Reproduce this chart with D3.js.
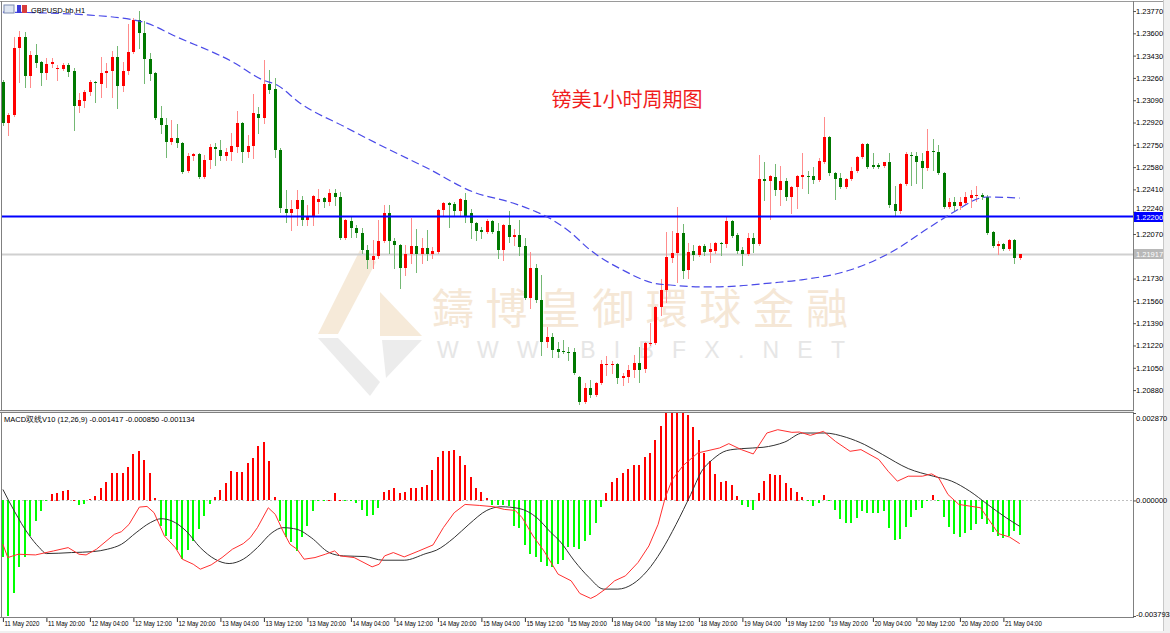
<!DOCTYPE html>
<html>
<head>
<meta charset="utf-8">
<script src="https://cdn.jsdelivr.net/npm/d3@7"></script>
<style>
  body { margin: 0; background: #fff; }
  text { font-family: "Liberation Sans", Arial, sans-serif; }
</style>
</head>
<body>
<svg id="chart"></svg>
<script>
// GBPUSD H1 candles: [open, high, low, close], first bar = 11 May 12:00
const ohlc = [
  [1.23229,1.23244,1.22901,1.22916],[1.22916,1.22992,1.22825,1.22977],[1.22977,1.23572,1.22969,1.23488],[1.23488,1.23617,1.23229,1.23572],
  [1.23572,1.23610,1.23191,1.23274],[1.23274,1.23465,1.23191,1.23435],[1.23435,1.23518,1.23344,1.23374],[1.23382,1.23390,1.23206,1.23297],
  [1.23297,1.23412,1.23251,1.23366],[1.23366,1.23412,1.23344,1.23382],[1.23328,1.23359,1.23244,1.23336],[1.23328,1.23374,1.23320,1.23359],
  [1.23359,1.23374,1.23274,1.23305],[1.23312,1.23336,1.22863,1.23046],[1.23046,1.23145,1.23000,1.23092],[1.23084,1.23168,1.23039,1.23153],
  [1.23153,1.23244,1.23130,1.23229],[1.23229,1.23236,1.23077,1.23221],[1.23213,1.23420,1.23115,1.23297],[1.23297,1.23374,1.23191,1.23312],
  [1.23312,1.23465,1.23115,1.23420],[1.23420,1.23503,1.23031,1.23198],[1.23198,1.23382,1.23160,1.23312],[1.23312,1.23671,1.23289,1.23458],
  [1.23458,1.23717,1.23450,1.23702],[1.23702,1.23770,1.23488,1.23602],[1.23602,1.23694,1.23221,1.23404],[1.23404,1.23450,1.23244,1.23289],
  [1.23297,1.23305,1.22946,1.22954],[1.22954,1.23046,1.22840,1.22901],[1.22901,1.22954,1.22657,1.22772],[1.22772,1.22939,1.22756,1.22802],
  [1.22802,1.22908,1.22734,1.22764],[1.22764,1.22772,1.22535,1.22543],[1.22550,1.22687,1.22543,1.22664],[1.22664,1.22687,1.22634,1.22679],
  [1.22679,1.22687,1.22497,1.22505],[1.22505,1.22672,1.22497,1.22634],[1.22634,1.22756,1.22573,1.22734],[1.22734,1.22764,1.22596,1.22718],
  [1.22710,1.22787,1.22634,1.22664],[1.22664,1.22726,1.22634,1.22695],[1.22695,1.22840,1.22634,1.22741],[1.22734,1.23007,1.22695,1.22916],
  [1.22916,1.22924,1.22619,1.22695],[1.22695,1.22825,1.22657,1.22741],[1.22741,1.23137,1.22649,1.22992],[1.22984,1.23039,1.22840,1.22954],
  [1.22954,1.23397,1.22916,1.23213],[1.23213,1.23320,1.23145,1.23168],[1.23175,1.23259,1.22657,1.22710],[1.22710,1.22726,1.22238,1.22268],
  [1.22261,1.22405,1.22162,1.22230],[1.22230,1.22329,1.22100,1.22261],[1.22261,1.22405,1.22139,1.22329],[1.22329,1.22359,1.22139,1.22177],
  [1.22177,1.22291,1.22139,1.22200],[1.22200,1.22367,1.22139,1.22359],[1.22314,1.22413,1.22230,1.22336],[1.22344,1.22352,1.22276,1.22314],
  [1.22314,1.22413,1.22291,1.22382],[1.22382,1.22413,1.22291,1.22352],[1.22352,1.22390,1.22031,1.22039],[1.22039,1.22184,1.22031,1.22177],
  [1.22169,1.22200,1.22047,1.22116],[1.22116,1.22139,1.22047,1.22077],[1.22077,1.22116,1.21925,1.21948],[1.21948,1.21986,1.21811,1.21872],
  [1.21872,1.22024,1.21811,1.21902],[1.21902,1.22177,1.21887,1.22016],[1.22016,1.22291,1.22009,1.22230],[1.22230,1.22291,1.21925,1.22016],
  [1.22016,1.22039,1.21811,1.21986],[1.21986,1.21993,1.21658,1.21811],[1.21811,1.21986,1.21757,1.21917],[1.21917,1.22192,1.21849,1.21978],
  [1.21978,1.22108,1.21780,1.21917],[1.21917,1.22039,1.21849,1.21963],[1.21963,1.22100,1.21872,1.21917],[1.21917,1.21971,1.21887,1.21940],
  [1.21933,1.22261,1.21925,1.22253],[1.22253,1.22314,1.22215,1.22306],[1.22306,1.22314,1.22124,1.22291],[1.22298,1.22314,1.22215,1.22245],
  [1.22245,1.22344,1.22215,1.22336],[1.22329,1.22382,1.22162,1.22200],[1.22230,1.22261,1.22039,1.22154],[1.22154,1.22162,1.22024,1.22092],
  [1.22100,1.22124,1.22039,1.22085],[1.22085,1.22184,1.22077,1.22169],[1.22169,1.22177,1.22077,1.22085],[1.22092,1.22154,1.21887,1.21948],
  [1.21948,1.22147,1.21872,1.22139],[1.22139,1.22245,1.22009,1.22047],[1.22047,1.22108,1.21986,1.22062],[1.22062,1.22177,1.21910,1.21971],
  [1.21978,1.22039,1.21574,1.21582],[1.21582,1.21933,1.21506,1.21811],[1.21811,1.21841,1.21552,1.21567],[1.21567,1.21757,1.21147,1.21247],
  [1.21247,1.21361,1.21209,1.21285],[1.21285,1.21315,1.21132,1.21185],[1.21193,1.21247,1.21132,1.21170],[1.21177,1.21262,1.21162,1.21170],
  [1.21170,1.21209,1.21109,1.21162],[1.21170,1.21201,1.21002,1.21010],[1.20980,1.20988,1.20773,1.20789],[1.20789,1.20934,1.20781,1.20896],
  [1.20896,1.20957,1.20827,1.20842],[1.20842,1.20942,1.20834,1.20934],[1.20934,1.21109,1.20926,1.21078],[1.21071,1.21139,1.20995,1.21078],
  [1.21071,1.21101,1.21010,1.21078],[1.21078,1.21086,1.20934,1.20972],[1.20972,1.21010,1.20919,1.20987],[1.20980,1.21071,1.20942,1.21033],
  [1.21033,1.21147,1.20980,1.21086],[1.21086,1.21209,1.20942,1.21033],[1.21040,1.21247,1.21018,1.21239],[1.21231,1.21391,1.21224,1.21239],
  [1.21239,1.21521,1.21231,1.21514],[1.21514,1.21726,1.21452,1.21643],[1.21643,1.22085,1.21552,1.21895],[1.21887,1.22092,1.21857,1.21925],
  [1.21925,1.22276,1.21704,1.22077],[1.22077,1.22146,1.21734,1.21787],[1.21795,1.22001,1.21734,1.21933],[1.21940,1.21986,1.21872,1.21910],
  [1.21910,1.21986,1.21902,1.21978],[1.21978,1.21993,1.21910,1.21933],[1.21933,1.22001,1.21857,1.21955],[1.21940,1.22009,1.21925,1.22001],
  [1.22001,1.22009,1.21910,1.21993],[1.21993,1.22207,1.21971,1.22169],[1.22169,1.22177,1.22047,1.22054],[1.22062,1.22077,1.21925,1.21940],
  [1.21948,1.21971,1.21834,1.21917],[1.21917,1.22077,1.21910,1.22039],[1.22039,1.22077,1.21933,1.21993],[1.21993,1.22672,1.21986,1.22489],
  [1.22489,1.22619,1.22329,1.22474],[1.22474,1.22520,1.22184,1.22512],[1.22505,1.22603,1.22367,1.22405],[1.22405,1.22588,1.22291,1.22474],
  [1.22474,1.22497,1.22329,1.22352],[1.22352,1.22436,1.22230,1.22429],[1.22429,1.22520,1.22268,1.22512],[1.22505,1.22687,1.22421,1.22520],
  [1.22512,1.22550,1.22382,1.22505],[1.22512,1.22581,1.22459,1.22482],[1.22482,1.22649,1.22474,1.22626],[1.22619,1.22962,1.22611,1.22810],
  [1.22810,1.22817,1.22520,1.22535],[1.22535,1.22543,1.22336,1.22489],[1.22497,1.22535,1.22421,1.22429],[1.22429,1.22497,1.22421,1.22489],
  [1.22489,1.22581,1.22482,1.22550],[1.22550,1.22664,1.22543,1.22657],[1.22657,1.22764,1.22649,1.22756],[1.22756,1.22764,1.22573,1.22581],
  [1.22596,1.22687,1.22573,1.22581],[1.22596,1.22611,1.22573,1.22581],[1.22588,1.22619,1.22581,1.22619],[1.22619,1.22687,1.22276,1.22291],
  [1.22298,1.22436,1.22215,1.22245],[1.22245,1.22459,1.22230,1.22451],[1.22451,1.22695,1.22444,1.22679],[1.22672,1.22695,1.22444,1.22664],
  [1.22664,1.22695,1.22459,1.22619],[1.22626,1.22687,1.22421,1.22573],[1.22573,1.22870,1.22558,1.22702],[1.22702,1.22794,1.22558,1.22695],
  [1.22695,1.22749,1.22527,1.22535],[1.22535,1.22543,1.22268,1.22276],[1.22276,1.22344,1.22268,1.22314],[1.22314,1.22352,1.22253,1.22283],
  [1.22283,1.22352,1.22260,1.22314],[1.22306,1.22390,1.22298,1.22352],[1.22344,1.22405,1.22276,1.22367],[1.22359,1.22436,1.22321,1.22367],
  [1.22367,1.22382,1.22336,1.22352],[1.22352,1.22367,1.22069,1.22077],[1.22085,1.22092,1.21971,1.21978],[1.21978,1.22016,1.21917,1.21993],
  [1.21993,1.22001,1.21948,1.21955],[1.21955,1.22031,1.21948,1.22024],[1.22024,1.22031,1.21849,1.21887],[1.21887,1.21917,1.21879,1.21917]
];

// blue dashed moving average, read as [bar, price]
const maLine = [
  [0,1.23762],[15.5,1.23740],[25.8,1.23686],[32,1.23572],[42.3,1.23381],[47.8,1.23244],[50.4,1.23206],[54.6,1.23069],
  [62.9,1.22886],[71.2,1.22710],[78,1.22573],[86.5,1.22390],[93.8,1.22306],[98.2,1.22237],[100.1,1.22200],[104.3,1.22085],
  [108,1.21948],[114,1.21795],[119.6,1.21696],[122.7,1.21681],[130,1.21666],[135,1.21673],[141.1,1.21696],[146.6,1.21719],
  [155.8,1.21795],[163.1,1.21925],[170.5,1.22123],[175.5,1.22253],[179.7,1.22344],[181,1.22352],[187,1.22344]
];

const levelLine = 1.22200;

// MACD histogram, one value per bar
const macdHist = [
  -0.001875,-0.004100,-0.003052,-0.002202,-0.001875,-0.001166,-0.000676,-0.000349,-0.000022,0.000218,
  0.000251,0.000305,0.000338,0.000010,-0.000164,-0.000142,0.000033,0.000142,0.000392,0.000610,
  0.000905,0.000905,0.000905,0.001090,0.001526,0.001613,0.001319,0.000905,0.000065,-0.000839,
  -0.001166,-0.001275,-0.001657,-0.001929,-0.001635,-0.001330,-0.000948,-0.000512,-0.000131,0.000109,
  0.000338,0.000578,0.000959,0.000927,0.000927,0.001232,0.001395,0.001777,0.001918,0.001286,
  0.000109,-0.000698,-0.001221,-0.001384,-0.001679,-0.001221,-0.000839,-0.000371,-0.000022,-0.000022,
  0.000005,0.000251,0.000022,-0.000022,-0.000044,-0.000109,-0.000327,-0.000512,-0.000480,-0.000273,
  0.000273,0.000338,0.000414,0.000240,0.000262,0.000392,0.000414,0.000436,0.000501,0.001014,
  0.001417,0.001613,0.001635,0.001668,0.001472,0.001155,0.000763,0.000392,0.000283,0.000065,
  -0.000153,-0.000153,-0.000164,-0.000185,-0.000839,-0.000916,-0.001493,-0.001766,-0.001875,-0.002038,
  -0.002180,-0.002202,-0.002093,-0.001984,-0.001548,-0.001548,-0.001602,-0.001330,-0.001134,-0.000763,
  -0.000218,0.000251,0.000610,0.000741,0.000905,0.001046,0.001177,0.001177,0.001417,0.001559,
  0.001995,0.002453,0.002998,0.003161,0.003107,0.002943,0.002812,0.002398,0.001995,0.001559,
  0.001286,0.000872,0.000600,0.000654,0.000501,0.000142,-0.000153,-0.000218,-0.000327,0.000251,
  0.000632,0.000883,0.000850,0.000850,0.000578,0.000392,0.000283,0.000109,-0.000044,-0.000185,
  -0.000109,0.000174,-0.000044,-0.000327,-0.000621,-0.000763,-0.000763,-0.000589,-0.000371,-0.000436,
  -0.000436,-0.000436,-0.000371,-0.000916,-0.001308,-0.001275,-0.000872,-0.000545,-0.000327,-0.000262,
  -0.000022,0.000174,-0.000022,-0.000545,-0.000872,-0.001112,-0.001199,-0.001090,-0.000981,-0.000785,
  -0.000621,-0.000785,-0.001057,-0.001166,-0.001254,-0.001166,-0.001003,-0.001134
];

// MACD fast line (red) and signal line (black), read as [bar, value]
const macdDiff = [
  [0,-0.001439],[0.9,-0.001875],[2.8,-0.001766],[6,-0.001788],[9.3,-0.001657],[12,-0.001548],[14,-0.001766],[15.3,-0.001788],
  [17.2,-0.001602],[20.5,-0.001112],[21.8,-0.001025],[23.2,-0.000785],[25.1,-0.000218],[26.5,-0.000196],[27.8,-0.000403],[29.7,-0.001166],
  [31.7,-0.001548],[33,-0.001929],[35,-0.002093],[36.3,-0.002256],[38.3,-0.002115],[40.3,-0.001875],[42.2,-0.001602],[44.2,-0.001417],
  [45.5,-0.001221],[46.8,-0.000894],[48.8,-0.000240],[50.1,-0.000458],[51.5,-0.001003],[52.8,-0.001439],[54.1,-0.001602],[55.4,-0.001929],
  [57.4,-0.001875],[59.3,-0.001766],[61,-0.001657],[62,-0.001820],[64.6,-0.001875],[67.9,-0.002180],[69.2,-0.002093],[70.2,-0.001820],
  [71.8,-0.001711],[73.8,-0.001853],[76.5,-0.001657],[79.1,-0.001461],[81,-0.000894],[83,-0.000403],[85,-0.000131],[87.6,-0.000164],
  [90.3,-0.000207],[92.2,-0.000294],[94.2,-0.000327],[95.5,-0.000567],[97.5,-0.001166],[99.5,-0.001657],[102.1,-0.002420],[104.5,-0.002638],
  [106.1,-0.003052],[108.1,-0.003216],[109.1,-0.003128],[110.8,-0.002910],[112.5,-0.002638],[114.5,-0.002474],[116.8,-0.002038],[118.8,-0.001493],
  [120.5,-0.000785],[121.8,0.000087],[123.1,0.000687],[125.1,0.001145],[127.8,0.001559],[131.8,0.001722],[133.5,0.001864],[135.8,0.001668],
  [138,0.001526],[140.5,0.002213],[142.5,0.002322],[145.1,0.002235],[146.5,0.002245],[148.5,0.002136],[150.9,0.002267],[153.1,0.001940],
  [155.8,0.001613],[157.8,0.001668],[161.1,0.001341],[162.8,0.000959],[164.5,0.000632],[166.5,0.000796],[169.1,0.000796],[170.8,0.000872],
  [172.1,0.000741],[173.8,0.000196],[175.8,-0.000131],[179.8,-0.000240],[181.5,-0.000676],[183.1,-0.001090],[185.1,-0.001199],[187,-0.001417]
];
const macdDea = [
  [0,0.000360],[2.1,-0.000349],[4.7,-0.001112],[6.7,-0.001548],[8,-0.001744],[12.6,-0.001711],[16.6,-0.001679],[19.2,-0.001602],
  [21.8,-0.001439],[24.5,-0.001057],[27.1,-0.000730],[29.1,-0.000600],[31.1,-0.000676],[33.7,-0.001003],[36.3,-0.001548],[39,-0.001929],
  [41.6,-0.002071],[44.2,-0.001929],[46.8,-0.001548],[49.5,-0.001057],[51.5,-0.000894],[54.1,-0.000948],[56.7,-0.001221],[60,-0.001711],
  [62.6,-0.001820],[66.6,-0.001842],[69.9,-0.001962],[73.8,-0.001962],[77.8,-0.001744],[79.7,-0.001635],[83,-0.001221],[85.7,-0.000785],
  [89,-0.000327],[91.6,-0.000207],[94.9,-0.000262],[98.2,-0.000567],[100.8,-0.001057],[102.4,-0.001330],[105.1,-0.001984],[107.8,-0.002529],
  [110.5,-0.002910],[113.1,-0.002910],[115.8,-0.002747],[118.5,-0.002311],[121.1,-0.001657],[123.8,-0.000785],[126.5,0.000196],[128.5,0.000959],
  [130.5,0.001341],[133.1,0.001635],[135.8,0.001700],[139.8,0.001744],[143.8,0.001918],[147.1,0.002213],[151.1,0.002213],[155.1,0.002071],
  [158.5,0.001831],[161.8,0.001504],[166.5,0.001046],[171.1,0.000796],[174.5,0.000632],[177.8,0.000305],[181.1,-0.000131],[184.5,-0.000567],
  [187,-0.000850]
];

const timeLabels = [
  '11 May 2020','11 May 20:00','12 May 04:00','12 May 12:00','12 May 20:00','13 May 04:00','13 May 12:00','13 May 20:00',
  '14 May 04:00','14 May 12:00','14 May 20:00','15 May 04:00','15 May 12:00','15 May 20:00','18 May 04:00','18 May 12:00',
  '18 May 20:00','19 May 04:00','19 May 12:00','19 May 20:00','20 May 04:00','20 May 12:00','20 May 20:00','21 May 04:00'
];
// 1.21900 sits under the last-price box in the reference, so it is not listed
const priceTicks = [1.2377,1.2360,1.2343,1.2326,1.2309,1.2292,1.2275,1.2258,1.2241,1.2224,1.2207,1.2173,1.2156,1.2139,1.2122,1.2105,1.2088];
const macdTicks = [0.00287, 0, -0.003793];

const width = 1170;
const height = 633;
const left = 2, right = 1133;
const mainTop = 2, mainBottom = 410;
const macdTop = 413, macdBottom = 616;

const svg = d3.select('#chart')
  .attr('width', width)
  .attr('height', height);

svg.append('rect').attr('width', width).attr('height', height).attr('fill', '#f0f0f0');
svg.append('rect').attr('width', 1164).attr('height', 631).attr('fill', '#fff');

const defs = svg.append('defs');
defs.append('clipPath').attr('id', 'clipMain').append('rect')
  .attr('x', left).attr('y', mainTop).attr('width', right - left).attr('height', mainBottom - mainTop);
defs.append('clipPath').attr('id', 'clipMacd').append('rect')
  .attr('x', left).attr('y', macdTop).attr('width', right - left).attr('height', macdBottom - macdTop);

// scales
const x = d3.scaleLinear().domain([0, ohlc.length - 1]).range([2.9, 2.9 + 5.4375 * (ohlc.length - 1)]);
const y = d3.scaleLinear().domain([1.23854, 1.20728]).range([0, 410]);
const ym = d3.scaleLinear().domain([-0.003793, 0.00287]).range([macdBottom, macdTop]);
const px = (i) => Math.round(x(i));

// watermark
const wm = svg.append('g').attr('clip-path', 'url(#clipMain)');
wm.append('polygon').attr('points', '360,250 376,262 338,334 318,334').attr('fill', '#f6ead9');
wm.append('polygon').attr('points', '380,292 422,336 380,336').attr('fill', '#f6ead9');
wm.append('polygon').attr('points', '318,338 338,338 380,382 370,396').attr('fill', '#ececec');
wm.append('polygon').attr('points', '382,340 422,340 386,378').attr('fill', '#ececec');
wm.append('text').attr('x', 432).attr('y', 324)
  .attr('textLength', 416).attr('lengthAdjust', 'spacing')
  .style('font-family', '"Noto Sans CJK TC", sans-serif').style('font-size', '42px')
  .attr('fill', '#f5e7d6').text('鑄博皇御環球金融');
wm.append('text').attr('x', 437).attr('y', 358)
  .attr('textLength', 408).attr('lengthAdjust', 'spacing')
  .style('font-size', '23px').attr('fill', '#e6e6e6').text('WWW.BIBFX.NET');

// last price line
const main = svg.append('g').attr('clip-path', 'url(#clipMain)');
const lastClose = ohlc[ohlc.length - 1][3];
main.append('line').attr('x1', left).attr('x2', right)
  .attr('y1', Math.round(y(lastClose)) + 0.5).attr('y2', Math.round(y(lastClose)) + 0.5)
  .attr('stroke', '#d0d0d0').attr('stroke-width', 2);

// candles (red = up, green = down)
const up = (d) => d[3] >= d[0];
const candles = main.selectAll('g.candle').data(ohlc).join('g').attr('class', 'candle');
candles.append('line')
  .attr('x1', (d, i) => px(i) + 0.5).attr('x2', (d, i) => px(i) + 0.5)
  .attr('y1', (d) => Math.round(y(d[1]))).attr('y2', (d) => Math.round(y(d[2])) + 1)
  .attr('stroke', (d) => up(d) ? '#ff8c8c' : '#74b874');
candles.append('rect')
  .attr('x', (d, i) => px(i) - 1).attr('width', 3)
  .attr('y', (d) => Math.round(y(Math.max(d[0], d[3]))))
  .attr('height', (d) => Math.max(1, Math.round(Math.abs(y(d[0]) - y(d[3])))))
  .attr('fill', (d) => up(d) ? '#ff0000' : '#007800');

main.append('line').attr('x1', left).attr('x2', right)
  .attr('y1', Math.round(y(levelLine)) - 0.5).attr('y2', Math.round(y(levelLine)) - 0.5)
  .attr('stroke', '#0000ff').attr('stroke-width', 2);

main.append('path').datum(maLine)
  .attr('d', d3.line().x((d) => x(d[0])).y((d) => y(d[1])).curve(d3.curveMonotoneX))
  .attr('fill', 'none').attr('stroke', '#4a4ae8').attr('stroke-width', 1.2)
  .attr('stroke-dasharray', '8,4');

// MACD panel
const macd = svg.append('g').attr('clip-path', 'url(#clipMacd)');
macd.append('line').attr('x1', left).attr('x2', right)
  .attr('y1', Math.round(ym(0)) + 0.5).attr('y2', Math.round(ym(0)) + 0.5)
  .attr('stroke', '#c0c0c0').attr('stroke-dasharray', '2,2');
macd.selectAll('rect.hist').data(macdHist).join('rect').attr('class', 'hist')
  .attr('x', (d, i) => px(i) - 1).attr('width', 2)
  .attr('y', (d) => Math.round(ym(Math.max(0, d))))
  .attr('height', (d) => Math.max(1, Math.round(Math.abs(ym(d) - ym(0)))))
  .attr('fill', (d) => d >= 0 ? '#ff0000' : '#00ff00');
macd.append('path').datum(macdDea)
  .attr('d', d3.line().x((d) => x(d[0])).y((d) => ym(d[1])).curve(d3.curveMonotoneX))
  .attr('fill', 'none').attr('stroke', '#333').attr('stroke-width', 1);
macd.append('path').datum(macdDiff)
  .attr('d', d3.line().x((d) => x(d[0])).y((d) => ym(d[1])))
  .attr('fill', 'none').attr('stroke', '#ff3030').attr('stroke-width', 1);

// frames
const frame = svg.append('g').attr('fill', 'none').attr('stroke', '#808080');
frame.append('line').attr('x1', 0).attr('x2', 1164).attr('y1', 1.5).attr('y2', 1.5).attr('stroke', '#9a9a9a');
frame.append('line').attr('x1', 1.5).attr('x2', 1.5).attr('y1', 1).attr('y2', 618);
frame.append('line').attr('x1', right + 0.5).attr('x2', right + 0.5).attr('y1', 1).attr('y2', 618);
frame.append('rect').attr('x', 0).attr('y', 410).attr('width', right + 1).attr('height', 3)
  .attr('fill', '#e6e6e6').attr('stroke', 'none');
frame.append('line').attr('x1', 0).attr('x2', right + 1).attr('y1', 410.5).attr('y2', 410.5);
frame.append('line').attr('x1', 0).attr('x2', right + 1).attr('y1', 412.5).attr('y2', 412.5);
frame.append('line').attr('x1', 0).attr('x2', right + 1).attr('y1', 617.5).attr('y2', 617.5);
frame.append('line').attr('x1', 1163.5).attr('x2', 1163.5).attr('y1', 0).attr('y2', 631).attr('stroke', '#c8c8c8');

// right price axis
const yAxis = d3.axisRight(y).tickValues(priceTicks).tickSize(3).tickFormat((d) => d.toFixed(5));
const gy = svg.append('g').attr('transform', `translate(${right},0)`).call(yAxis);
const macdAxis = d3.axisRight(ym).tickValues(macdTicks).tickSize(3).tickFormat((d) => d.toFixed(6));
const gm = svg.append('g').attr('transform', `translate(${right},0)`).call(macdAxis);
gm.selectAll('.tick text').attr('dy', (d) => d === 0.00287 ? '0.95em' : d < 0 ? '0' : '0.32em');
[gy, gm].forEach((g) => {
  g.select('.domain').remove();
  g.selectAll('.tick line').attr('stroke', '#555');
  g.selectAll('.tick text').attr('x', 3).style('font-size', '7.5px').attr('fill', '#000');
});
// label just above the level box is nudged up, as in the reference
gy.selectAll('.tick text').filter((d) => d === 1.2224).attr('dy', '-0.1em');

// price boxes
function priceBox(value, fill) {
  const yy = Math.round(y(value));
  svg.append('rect').attr('x', right + 1).attr('y', yy - 5).attr('width', 29).attr('height', 10).attr('fill', fill);
  svg.append('text').attr('x', right + 3).attr('y', yy + 3).style('font-size', '7.5px')
    .attr('fill', '#fff').text(value.toFixed(5));
}
priceBox(levelLine, '#0000ff');
priceBox(lastClose, '#b8b8b8');

// time axis
const xAxis = d3.axisBottom(x)
  .tickValues(timeLabels.map((t, k) => k * 8))
  .tickFormat((d) => timeLabels[d / 8])
  .tickSize(4);
const gx = svg.append('g').attr('transform', 'translate(0,618)').call(xAxis);
gx.select('.domain').remove();
gx.selectAll('.tick line').attr('stroke', '#333');
gx.selectAll('.tick text').attr('text-anchor', 'start').attr('x', 1).attr('y', 3)
  .attr('textLength', (d) => d === 0 ? 35 : 37).attr('lengthAdjust', 'spacingAndGlyphs')
  .style('font-size', '7.5px').attr('fill', '#000');

// labels
const icons = svg.append('g');
icons.append('rect').attr('x', 4).attr('y', 5).attr('width', 10).attr('height', 8).attr('fill', '#dfe6f2').attr('stroke', '#7c8cb0');
icons.append('rect').attr('x', 17).attr('y', 5).attr('width', 4).attr('height', 8).attr('fill', '#3c3cd8');
icons.append('rect').attr('x', 22).attr('y', 5).attr('width', 5).attr('height', 8).attr('fill', '#d83c3c');
svg.append('text').attr('x', 31).attr('y', 13).style('font-size', '7.5px').attr('fill', '#000').text('GBPUSD-bb,H1');
svg.append('text').attr('x', 4).attr('y', 422).style('font-size', '7.5px').attr('fill', '#000')
  .text('MACD双线V10 (12,26,9) -0.001417 -0.000850 -0.001134');
svg.append('text').attr('x', 627).attr('y', 107).attr('text-anchor', 'middle')
  .style('font-family', '"Noto Sans CJK SC", sans-serif').style('font-size', '20px')
  .attr('fill', '#f01c1c').text('镑美1小时周期图');
</script>
</body>
</html>
